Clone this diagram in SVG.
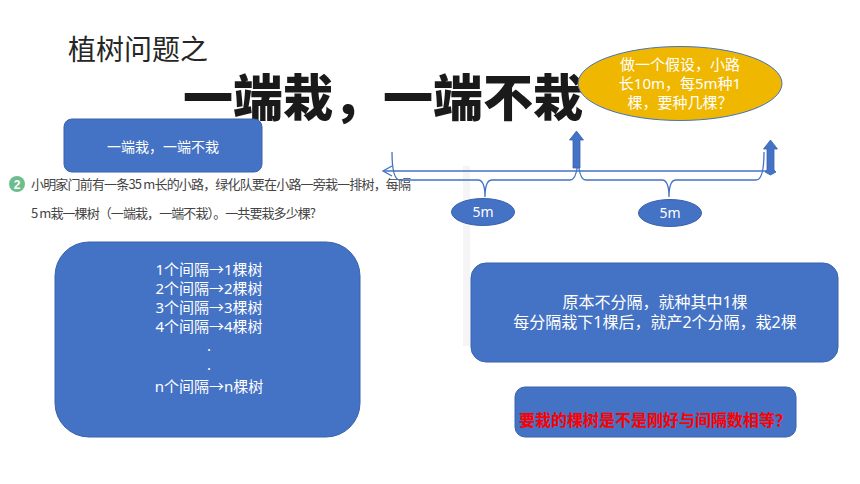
<svg xmlns="http://www.w3.org/2000/svg" width="860" height="484" viewBox="0 0 860 484">
<style>
.box{fill:#4472C4;stroke:#3A63AD;stroke-width:1}
.wt{fill:#FFFFFF;font-family:"Noto Sans","Noto Sans CJK SC",sans-serif;font-size:15px;text-anchor:middle}
.ln{fill:none;stroke:#4472C4;stroke-width:1.3}
.blk{fill:#4472C4;stroke:#3A63AD;stroke-width:0.8}
.prob{fill:#444444;font-family:"Noto Sans CJK SC",serif;font-size:13px}
</style>
<rect width="860" height="484" fill="#FFFFFF"/>
<rect x="463" y="166" width="7" height="180" fill="#F5F5F5"/>

<g id="title">
<text x="68" y="60" font-family="'Noto Sans CJK SC',sans-serif" font-size="28" fill="#262626">植树问题之</text>
<text x="183" y="116" font-family="'Noto Sans CJK SC',sans-serif" font-size="50" font-weight="900" fill="#1A1A1A">一端栽，一端不栽</text>
</g>

<g id="assume">
<ellipse cx="680" cy="83.5" rx="102" ry="37" fill="#F0B700" stroke="#4472C4" stroke-width="1"/>
<text class="wt" x="680" y="70">做一个假设，小路</text>
<text class="wt" x="680" y="89">长10m，每5m种1</text>
<text class="wt" x="680" y="108">棵，要种几棵？</text>
</g>

<g id="label-box">
<rect class="box" x="64" y="119" width="198" height="53" rx="8"/>
<text class="wt" x="163" y="152" style="font-size:14px">一端栽，一端不栽</text>
</g>

<g id="problem">
<circle cx="17" cy="184" r="8" fill="#6DBE8C"/>
<text x="17" y="188.5" font-family="'Liberation Sans',sans-serif" font-size="12" font-weight="bold" fill="#FFFFFF" text-anchor="middle">2</text>
<text class="prob" x="31" y="189" textLength="380" lengthAdjust="spacing">小明家门前有一条35 m长的小路，绿化队要在小路一旁栽一排树，每隔</text>
<text class="prob" x="31" y="218" textLength="285" lengthAdjust="spacing">5 m栽一棵树（一端栽，一端不栽）。一共要栽多少棵?</text>
</g>

<g id="connectors">
<line class="ln" x1="773" y1="171" x2="384" y2="171"/>
<polyline class="ln" points="392,166 383,171 392,176"/>
<path class="ln" d="M392,152 Q392,180 400,180 L478,180 Q485,180 485,197 Q485,180 492,180 L570,180 Q578,180 578,152"/>
<path class="ln" d="M578,152 Q578,180 586,180 L662,180 Q669,180 669,197 Q669,180 676,180 L756,180 Q764,180 764,152"/>
<path class="blk" d="M573,168 L573,140 L569.5,140 L576.5,131 L583.5,140 L580,140 L580,168 Z"/>
<path class="blk" d="M767,170 L767,149 L763.5,149 L770.5,140 L777.5,149 L774,149 L774,170 L776,172 L770.5,175 L765,172 Z"/>
</g>

<g id="seg1">
<ellipse class="box" cx="483" cy="212" rx="31.5" ry="13.5"/>
<text class="wt" x="483" y="217" style="font-size:14px">5m</text>
</g>
<g id="seg2">
<ellipse class="box" cx="670" cy="213" rx="31.5" ry="13.5"/>
<text class="wt" x="670" y="218" style="font-size:14px">5m</text>
</g>

<g id="list-box">
<rect class="box" x="55" y="242" width="305" height="195" rx="34"/>
<text class="wt" x="209" y="275">1个间隔→1棵树</text>
<text class="wt" x="209" y="294">2个间隔→2棵树</text>
<text class="wt" x="209" y="313">3个间隔→3棵树</text>
<text class="wt" x="209" y="332">4个间隔→4棵树</text>
<text class="wt" x="209" y="351">.</text>
<text class="wt" x="209" y="370">.</text>
<text class="wt" x="209" y="392">n个间隔→n棵树</text>
</g>

<g id="explain-box">
<rect class="box" x="471" y="263" width="367" height="99" rx="15"/>
<text class="wt" x="655" y="308" style="font-size:16px">原本不分隔，就种其中1棵</text>
<text class="wt" x="655" y="328" style="font-size:16px">每分隔栽下1棵后，就产2个分隔，栽2棵</text>
</g>

<g id="question-box">
<rect class="box" x="515" y="387" width="281" height="50" rx="10"/>
<text x="655" y="426" font-family="'Noto Sans CJK SC',sans-serif" font-size="16" font-weight="bold" fill="#FF0000" text-anchor="middle">要栽的棵树是不是刚好与间隔数相等？</text>
</g>
</svg>
